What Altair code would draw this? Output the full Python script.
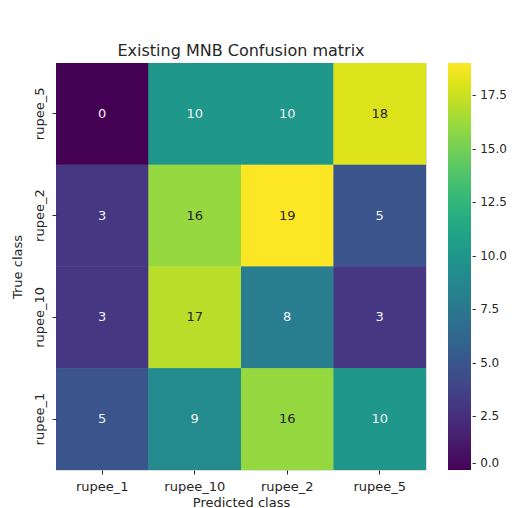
import altair as alt
import pandas as pd

# Confusion matrix of the existing MNB classifier
pred_classes = ["rupee_1", "rupee_10", "rupee_2", "rupee_5"]
true_classes = ["rupee_5", "rupee_2", "rupee_10", "rupee_1"]
counts = [
    [0, 10, 10, 18],   # rupee_5
    [3, 16, 19, 5],    # rupee_2
    [3, 17, 8, 3],     # rupee_10
    [5, 9, 16, 10],    # rupee_1
]
colorbar_ticks = [0.0, 2.5, 5.0, 7.5, 10.0, 12.5, 15.0, 17.5]

rows = [
    {"true": t, "pred": p, "count": counts[i][j]}
    for i, t in enumerate(true_classes)
    for j, p in enumerate(pred_classes)
]
df = pd.DataFrame(rows)

FONT = "DejaVu Sans"
INK = "#262626"

x_axis = alt.Axis(
    labelAngle=0, domain=False, tickSize=4, tickColor=INK, tickWidth=1,
    labelFontSize=13, titleFontSize=13, labelColor=INK, titleColor=INK,
    labelFont=FONT, titleFont=FONT, titleFontWeight="normal",
    labelPadding=6, titlePadding=3,
)
y_axis = alt.Axis(
    labelAngle=270, labelAlign="center", labelBaseline="bottom",
    domain=False, tickSize=4, tickColor=INK, tickWidth=1,
    labelFontSize=13, titleFontSize=13, labelColor=INK, titleColor=INK,
    labelFont=FONT, titleFont=FONT, titleFontWeight="normal",
    labelPadding=6, titlePadding=9,
)

base = alt.Chart(df).encode(
    x=alt.X("pred:N", sort=pred_classes, title="Predicted class", axis=x_axis),
    y=alt.Y("true:N", sort=true_classes, title="True class", axis=y_axis),
)

heat = base.mark_rect(strokeWidth=0).encode(
    color=alt.Color(
        "count:Q",
        scale=alt.Scale(scheme="viridis", domain=[0, 19]),
        legend=alt.Legend(
            orient="none", legendX=392, legendY=0, direction="vertical",
            title=None, gradientLength=407, gradientThickness=23,
            gradientStrokeWidth=0, values=colorbar_ticks, format=".1f",
            labelExpr="'- ' + datum.label",
            labelFontSize=12, labelFont=FONT, labelColor=INK,
            labelOffset=1, labelOverlap=False,
        ),
    ),
)

text = base.mark_text(fontSize=13, font=FONT).encode(
    text="count:Q",
    color=alt.condition(alt.datum.count >= 13, alt.value(INK), alt.value("#f2f2f2")),
)

# the cells are drawn twice so the anti-aliased seams between them vanish
chart = (
    (heat + heat + text)
    .properties(
        width=370,
        height=407,
        title=alt.TitleParams(
            "Existing MNB Confusion matrix", fontSize=16, font=FONT,
            fontWeight="normal", color=INK, offset=4,
        ),
        autosize=alt.AutoSizeParams(type="none"),
        padding={"left": 56, "top": 63, "right": 86, "bottom": 38},
    )
    .configure_view(stroke=None)
    .configure(background="white")
)

chart.save("out.html", embed_options={"renderer": "svg", "actions": False})
